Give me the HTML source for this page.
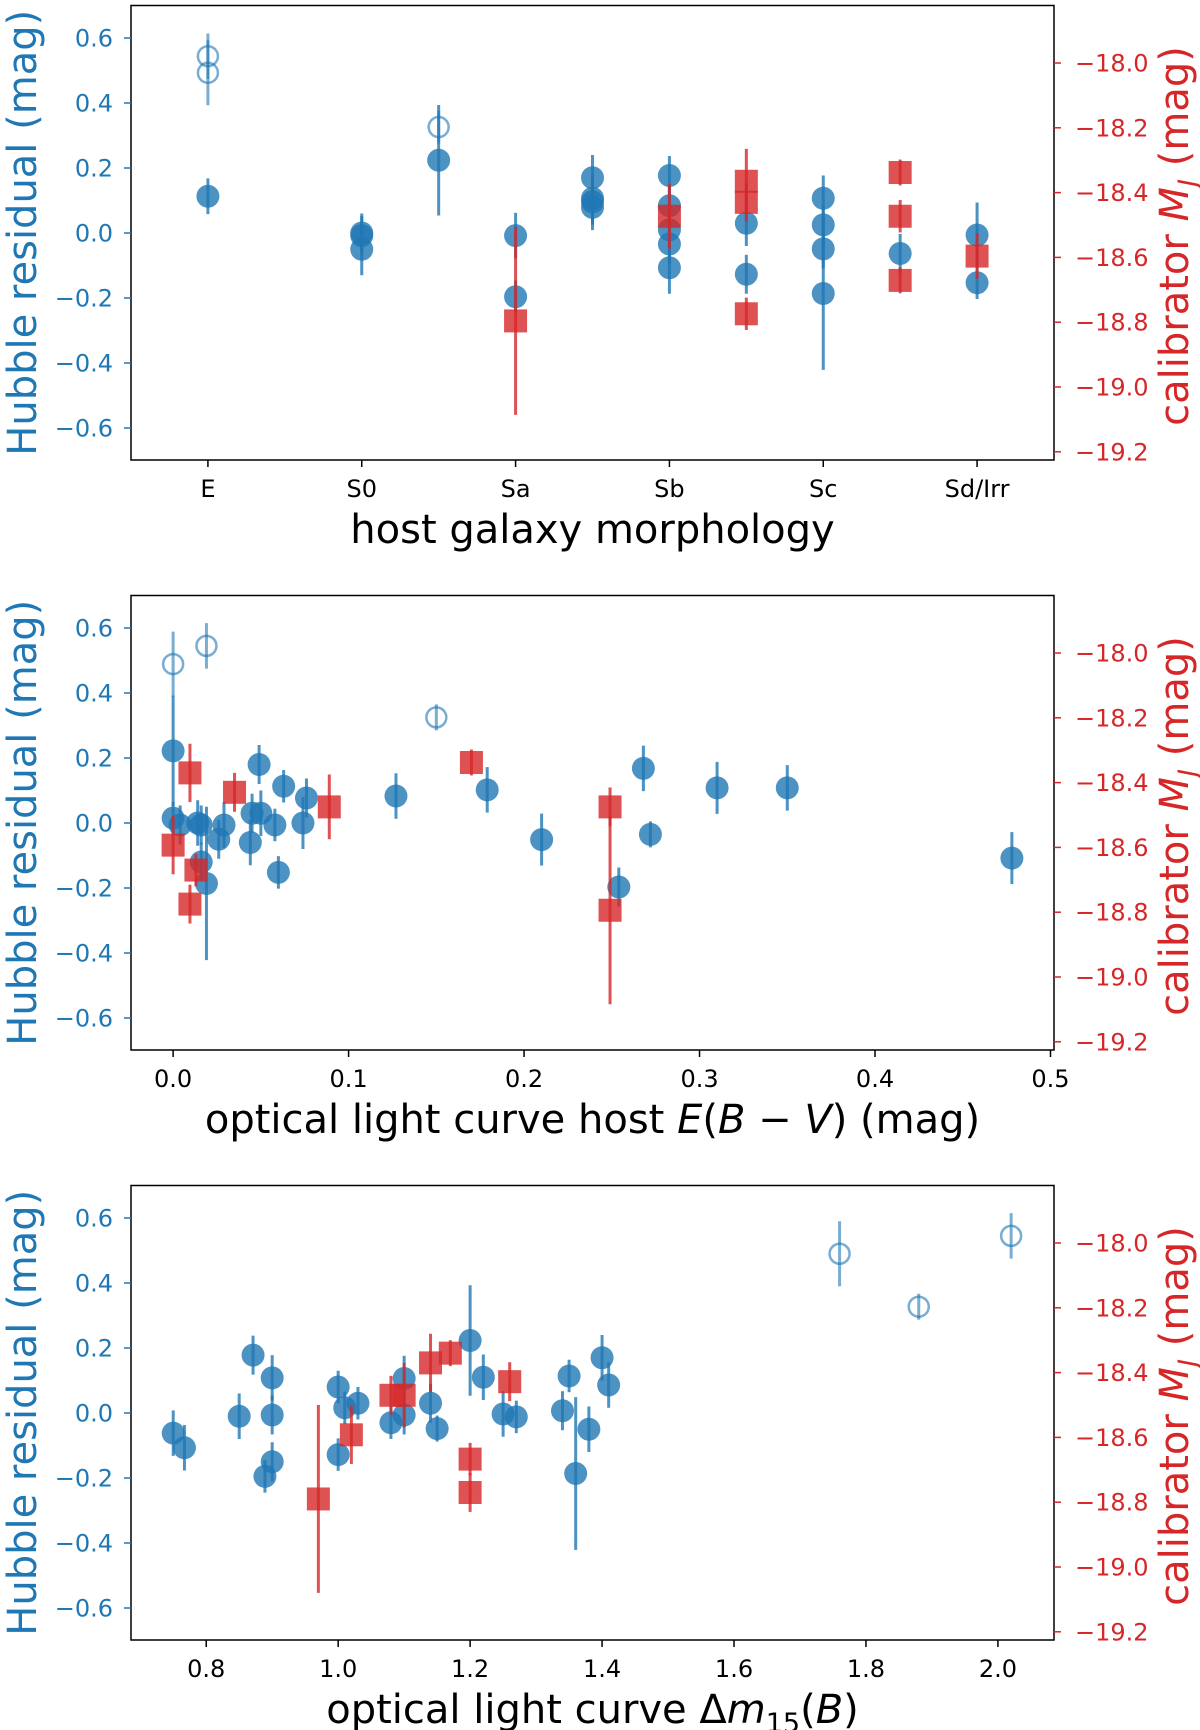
<!DOCTYPE html>
<html><head><meta charset="utf-8"><style>
html,body{margin:0;padding:0;background:#fff;}
svg{display:block;font-family:"DejaVu Sans","Liberation Sans",sans-serif;}
</style></head><body>
<svg id="fig" width="1200" height="1730" viewBox="0 0 1200 1730"></svg>
<script>
// ---- Panel 1: morphology (category index, half steps allowed)
const morphCats = ["E","S0","Sa","Sb","Sc","Sd/Irr"];
const p1BlueX = [0,1,1,1,1.5,2,2,2.5,2.5,2.5,2.5,3,3,3,3,3,3.5,3.5,4,4,4,4,4.5,5,5];
const p1BlueY = [0.113,0.0,-0.008,-0.05,0.224,-0.008,-0.196,0.17,0.107,0.096,0.079,0.177,0.084,0.01,-0.034,-0.107,0.03,-0.127,0.107,0.025,-0.049,-0.186,-0.063,-0.006,-0.153];
const p1BlueE = [0.055,0.06,0.06,0.08,0.17,0.07,0.05,0.07,0.07,0.07,0.07,0.06,0.06,0.06,0.06,0.08,0.07,0.06,0.07,0.06,0.06,0.235,0.06,0.1,0.05];
const p1OpenX = [0,0,1.5];
const p1OpenY = [0.544,0.493,0.326];
const p1OpenE = [0.07,0.1,0.05];
const p1RedX = [2,3,3.5,3.5,3.5,4.5,4.5,4.5,5];
const p1RedY = [-18.796,-18.473,-18.365,-18.43,-18.774,-18.338,-18.473,-18.671,-18.596];
const p1RedE = [0.29,0.1,0.1,0.06,0.05,0.04,0.05,0.04,0.07];
// ---- Panel 2: E(B-V)
const p2Ticks = ["0.0","0.1","0.2","0.3","0.4","0.5"];
const p2BlueX = [0.0,0.0,0.004,0.014,0.016,0.016,0.019,0.026,0.029,0.044,0.045,0.049,0.05,0.058,0.06,0.063,0.074,0.076,0.127,0.179,0.21,0.254,0.268,0.272,0.31,0.35,0.478];
const p2BlueY = [0.222,0.015,-0.006,0.0,-0.006,-0.12,-0.186,-0.05,-0.006,-0.06,0.03,0.18,0.03,-0.006,-0.152,0.113,0.0,0.077,0.083,0.102,-0.051,-0.197,0.168,-0.035,0.108,0.108,-0.108];
const p2BlueE = [0.17,0.05,0.06,0.07,0.06,0.06,0.236,0.06,0.07,0.07,0.06,0.06,0.07,0.05,0.05,0.05,0.08,0.06,0.07,0.07,0.08,0.06,0.07,0.04,0.08,0.07,0.08];
const p2OpenX = [0.0,0.019,0.15];
const p2OpenY = [0.489,0.545,0.325];
const p2OpenE = [0.1,0.07,0.04];
const p2RedX = [0.0096,0.035,0.089,0.17,0.0,0.013,0.0096,0.249,0.249];
const p2RedY = [-18.37,-18.43,-18.475,-18.338,-18.593,-18.67,-18.775,-18.475,-18.794];
const p2RedE = [0.09,0.06,0.1,0.04,0.09,0.05,0.06,0.06,0.29];
// ---- Panel 3: dm15
const p3Ticks = ["0.8","1.0","1.2","1.4","1.6","1.8","2.0"];
const p3BlueX = [0.75,0.767,0.85,0.871,0.889,0.9,0.9,0.9,1.0,1.0,1.01,1.03,1.08,1.1,1.1,1.14,1.15,1.2,1.22,1.25,1.27,1.34,1.35,1.36,1.38,1.4,1.41];
const p3BlueY = [-0.062,-0.107,-0.01,0.178,-0.195,0.108,-0.006,-0.15,0.08,-0.128,0.016,0.03,-0.03,0.106,-0.006,0.03,-0.048,0.223,0.11,-0.003,-0.012,0.007,0.114,-0.186,-0.05,0.17,0.086];
const p3BlueE = [0.07,0.07,0.07,0.06,0.05,0.07,0.06,0.06,0.05,0.05,0.05,0.05,0.05,0.07,0.06,0.06,0.04,0.17,0.07,0.07,0.05,0.06,0.05,0.235,0.07,0.07,0.07];
const p3OpenX = [1.76,1.88,2.02];
const p3OpenY = [0.49,0.327,0.545];
const p3OpenE = [0.1,0.04,0.07];
const p3RedX = [0.97,1.02,1.08,1.1,1.14,1.17,1.2,1.2,1.26];
const p3RedY = [-18.79,-18.592,-18.47,-18.47,-18.37,-18.34,-18.667,-18.77,-18.428];
const p3RedE = [0.29,0.09,0.06,0.1,0.09,0.04,0.05,0.06,0.06];

const leftTicks = [0.6,0.4,0.2,0.0,-0.2,-0.4,-0.6];
const rightTicks = [-18.0,-18.2,-18.4,-18.6,-18.8,-19.0,-19.2];

const NS="http://www.w3.org/2000/svg";
const svg=document.getElementById('fig');
const BLUE="#1f77b4", RED="#d62728";
function mk(tag,attrs,parent){const e=document.createElementNS(NS,tag);for(const k in attrs)e.setAttribute(k,attrs[k]);(parent||svg).appendChild(e);return e;}
function fmt(v){return (v<0?"\u2212":"")+Math.abs(v).toFixed(1);}

const L=131,R=1054;
function panel(off,xmin,xmax,xTickVals,xTickLabels,xlabelHTML,bx,by,be,ox,oy,oe,rx,ry,re,name){
  const T=off+5.5,B=off+460;
  const g=mk('g',{});
  
  
  const X=v=>L+(v-xmin)/(xmax-xmin)*(R-L);
  const Y=v=>off+233-v*325;
  const YR=v=>off+63+(-18-v)*324;
  for(let i=0;i<by.length;i++){
    const l=mk('line',{x1:X(bx[i]),x2:X(bx[i]),y1:Y(by[i]+be[i]),y2:Y(by[i]-be[i]),stroke:BLUE,'stroke-width':3,'stroke-opacity':0.8},g);
    
    
    const c=mk('circle',{cx:X(bx[i]),cy:Y(by[i]),r:11.5,fill:BLUE,'fill-opacity':0.8},g);
    
    
  }
  for(let i=0;i<oy.length;i++){
    const l=mk('line',{x1:X(ox[i]),x2:X(ox[i]),y1:Y(oy[i]+oe[i]),y2:Y(oy[i]-oe[i]),stroke:BLUE,'stroke-width':3,'stroke-opacity':0.6},g);
    
    
    const c=mk('circle',{cx:X(ox[i]),cy:Y(oy[i]),r:10,fill:'none',stroke:BLUE,'stroke-width':2.5,'stroke-opacity':0.6},g);
    
    
  }
  for(let i=0;i<ry.length;i++){
    const l=mk('line',{x1:X(rx[i]),x2:X(rx[i]),y1:YR(ry[i]+re[i]),y2:YR(ry[i]-re[i]),stroke:RED,'stroke-width':3,'stroke-opacity':0.8},g);
    
    
    const s=mk('rect',{x:X(rx[i])-11.5,y:YR(ry[i])-11.5,width:23,height:23,fill:RED,'fill-opacity':0.8},g);
    
    
  }
  const f=mk('rect',{x:L,y:T,width:R-L,height:B-T,fill:'none',stroke:'#000','stroke-width':1.5},g);
  
  
  for(const v of leftTicks){
    mk('line',{x1:L-7,x2:L,y1:Y(v),y2:Y(v),stroke:BLUE,'stroke-width':1.5},g);
    const t=mk('text',{x:L-18,y:Y(v)+8.5,'text-anchor':'end','font-size':24,fill:BLUE},g);
    t.textContent=fmt(v);
    
    
  }
  for(const v of rightTicks){
    mk('line',{x1:R,x2:R+7,y1:YR(v),y2:YR(v),stroke:RED,'stroke-width':1.5},g);
    const t=mk('text',{x:R+21,y:YR(v)+8.5,'text-anchor':'start','font-size':24,fill:RED},g);
    t.textContent=fmt(v);
    
    
  }
  for(let i=0;i<xTickVals.length;i++){
    const x=X(xTickVals[i]);
    mk('line',{x1:x,x2:x,y1:B,y2:B+7,stroke:'#000','stroke-width':1.5},g);
    const t=mk('text',{x:x,y:B+37,'text-anchor':'middle','font-size':24,fill:'#000'},g);
    t.textContent=xTickLabels[i];
    
    
  }
  const xl=mk('text',{x:(L+R)/2,y:B+83,'text-anchor':'middle','font-size':40,fill:'#000'},g);
  xl.innerHTML=xlabelHTML;
  
  
  const yl=mk('text',{x:0,y:0,'text-anchor':'middle','font-size':40,fill:BLUE,transform:`translate(36,${(T+B)/2}) rotate(-90)`},g);
  yl.textContent="Hubble residual (mag)";
  
  
  const yr=mk('text',{x:0,y:0,'text-anchor':'middle','font-size':40,fill:RED,transform:`translate(1188,${off+236}) rotate(-90)`},g);
  yr.innerHTML='calibrator <tspan font-style="italic">M</tspan><tspan font-style="italic" font-size="27" dy="9">J</tspan><tspan dy="-9"> (mag)</tspan>';
  
  
}
panel(0,-0.5,5.5,[0,1,2,3,4,5],morphCats,'host galaxy morphology',p1BlueX,p1BlueY,p1BlueE,p1OpenX,p1OpenY,p1OpenE,p1RedX,p1RedY,p1RedE,'morphology-panel');
panel(590,-0.024,0.502,[0,0.1,0.2,0.3,0.4,0.5],p2Ticks,'optical light curve host <tspan font-style="italic">E</tspan>(<tspan font-style="italic">B</tspan> \u2212 <tspan font-style="italic">V</tspan>) (mag)',p2BlueX,p2BlueY,p2BlueE,p2OpenX,p2OpenY,p2OpenE,p2RedX,p2RedY,p2RedE,'ebv-panel');
panel(1180,0.686,2.085,[0.8,1.0,1.2,1.4,1.6,1.8,2.0],p3Ticks,'optical light curve \u0394<tspan font-style="italic">m</tspan><tspan font-size="27" dy="9">15</tspan><tspan dy="-9">(</tspan><tspan font-style="italic">B</tspan>)',p3BlueX,p3BlueY,p3BlueE,p3OpenX,p3OpenY,p3OpenE,p3RedX,p3RedY,p3RedE,'dm15-panel');
</script>
</body></html>
